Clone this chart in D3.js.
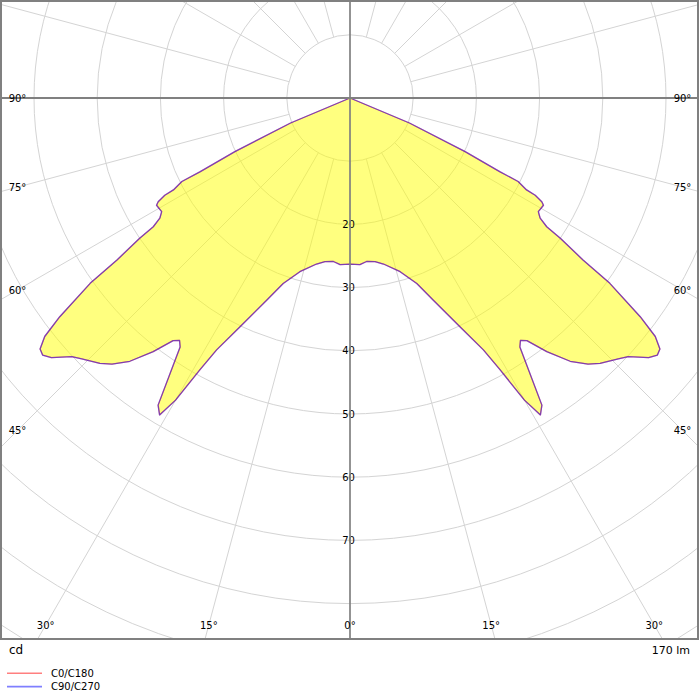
<!DOCTYPE html>
<html>
<head>
<meta charset="utf-8">
<script src="https://cdn.jsdelivr.net/npm/d3@7"></script>
<style>
  html, body { margin: 0; padding: 0; background: #fff; }
  svg { display: block; font-family: "DejaVu Sans", Verdana, sans-serif; }
</style>
</head>
<body>
<svg id="chart" width="700" height="700"></svg>
<script>
// ---- data ----
const gammaDeg = [0,3.4,5.8,8.7,11.4,16.1,19.8,22.4,25.7,27.9,28.9,30.0,31.0,32.0,34.3,35.1,36.1,37.8,39.9,41.8,43.3,45.8,47.1,49.0,50.1,51.0,52.0,53.0,54.5,55.2,56.3,56.8,57.7,58.9,61.0,61.6,62.3,62.5,63.6,63.8,65.0,67.2,90];
const c0c180 = [26.3,26.4,26.0,26.2,26.8,28.6,31.2,34.6,40.2,45.1,49.1,55.2,58.5,57.3,47.7,46.9,47.5,50.8,54.3,56.5,57.7,59.2,60.1,62.6,63.4,63.1,61.3,57.5,50.5,44.9,40.0,37.2,35.6,34.8,35.0,34.5,33.1,31.5,29.7,26.4,20.1,10.2,0];
const c90c270 = c0c180.slice(); // identical distribution in both planes
const ringValues = [10,20,30,40,50,60,70,80,90,100,110];
const ringLabels = [20,30,40,50,60,70];
const angleLabels = [0,15,30,45,60,75,90];
const seriesNames = ["C0/C180","C90/C270"];
const seriesColors = ["rgba(255,0,0,0.5)","rgba(0,0,255,0.5)"];
const unitLabel = "cd";
const fluxLabel = "170 lm";

// ---- layout ----
const W = 700, cx = 350, cy = 98;
const frame = {x0: 1, y0: 1, x1: 698, y1: 639};
const r = d3.scaleLinear().domain([0, 100]).range([0, 632]);
const toRad = d => d * Math.PI / 180;

const svg = d3.select("#chart");
svg.append("defs").append("clipPath").attr("id","clip")
  .append("rect").attr("x",frame.x0).attr("y",frame.y0)
  .attr("width",frame.x1-frame.x0).attr("height",frame.y1-frame.y0);

const plot = svg.append("g").attr("clip-path","url(#clip)");
const g = plot.append("g").attr("transform",`translate(${cx},${cy})`);

// grid circles
g.selectAll("circle.ring").data(ringValues).join("circle")
  .attr("class","ring").attr("r", d => r(d))
  .attr("fill","none").attr("stroke","#d4d4d4").attr("stroke-width",1);

// radial grid lines every 15 deg, starting at ring 10
const radials = d3.range(0, 360, 15).filter(a => a % 90 !== 0);
g.selectAll("line.rad").data(radials).join("line")
  .attr("class","rad")
  .attr("x1", a => r(10) * Math.sin(toRad(a)))
  .attr("y1", a => r(10) * Math.cos(toRad(a)))
  .attr("x2", a => r(130) * Math.sin(toRad(a)))
  .attr("y2", a => r(130) * Math.cos(toRad(a)))
  .attr("stroke","#d4d4d4").attr("stroke-width",1);

// main axes
plot.append("line").attr("x1",cx).attr("x2",cx).attr("y1",0).attr("y2",640)
  .attr("stroke","#808080").attr("stroke-width",1.7);
plot.append("line").attr("x1",0).attr("x2",W).attr("y1",cy).attr("y2",cy)
  .attr("stroke","#808080").attr("stroke-width",2);

// curve points: right half (gamma from nadir, clockwise on right), then left half mirrored
function polarPoints(vals) {
  const right = gammaDeg.map((gm, i) => [Math.PI - toRad(gm), r(vals[i])]);
  const left = gammaDeg.map((gm, i) => [Math.PI + toRad(gm), r(vals[i])]).reverse();
  return right.concat(left);
}
const radialLine = d3.lineRadial().angle(d => d[0]).radius(d => d[1]).curve(d3.curveLinearClosed);

g.append("path").attr("d", radialLine(polarPoints(c0c180)))
  .attr("fill","rgba(255,255,0,0.5)").attr("stroke","none");

// ring labels
g.selectAll("text.ringlab").data(ringLabels).join("text")
  .attr("class","ringlab")
  .attr("x", -1.5).attr("y", d => r(d) + 3.6)
  .attr("text-anchor","middle").attr("font-size",10).attr("fill","#000")
  .text(d => d);

// series strokes
[c0c180, c90c270].forEach((vals, i) => {
  g.append("path").attr("d", radialLine(polarPoints(vals)))
    .attr("fill","none").attr("stroke", seriesColors[i]).attr("stroke-width",1.3)
    .attr("stroke-linejoin","round");
});

// angle labels, placed where each ray meets an inset box
const inset = {x0: 17.5, x1: 682.5, y1: 625};
function labelPos(a, side) {
  const s = Math.sin(toRad(a)), c = Math.cos(toRad(a));
  let t = Infinity;
  if (s > 1e-6) t = Math.min(t, (side < 0 ? cx - inset.x0 : inset.x1 - cx) / s);
  if (c > 1e-6) t = Math.min(t, (inset.y1 - cy) / c);
  return [cx + side * t * s, cy + t * c];
}
const angleItems = [];
angleLabels.forEach(a => {
  angleItems.push({a, p: labelPos(a, -1)});
  if (a !== 0) angleItems.push({a, p: labelPos(a, 1)});
});
svg.selectAll("text.anglab").data(angleItems).join("text")
  .attr("class","anglab")
  .attr("x", d => d.p[0]).attr("y", d => d.p[1] + 3.6)
  .attr("text-anchor","middle").attr("font-size",10).attr("fill","#000")
  .text(d => d.a + "°");

// frame
svg.append("rect").attr("x",frame.x0).attr("y",frame.y0)
  .attr("width",frame.x1-frame.x0).attr("height",frame.y1-frame.y0)
  .attr("fill","none").attr("stroke","#808080").attr("stroke-width",2);

// footer texts
svg.append("text").attr("x",9).attr("y",654).attr("font-size",12).attr("fill","#000").text(unitLabel);
svg.append("text").attr("x",690).attr("y",654).attr("text-anchor","end").attr("font-size",11).attr("fill","#000").text(fluxLabel);

// legend
const leg = svg.append("g");
seriesNames.forEach((name, i) => {
  const y = 673.3 + i * 13.3;
  leg.append("line").attr("x1",7).attr("x2",42).attr("y1",y).attr("y2",y)
    .attr("stroke", seriesColors[i]).attr("stroke-width",1.6);
  leg.append("text").attr("x",51).attr("y",y + 3.6).attr("font-size",10).attr("fill","#000").text(name);
});
</script>
</body>
</html>
